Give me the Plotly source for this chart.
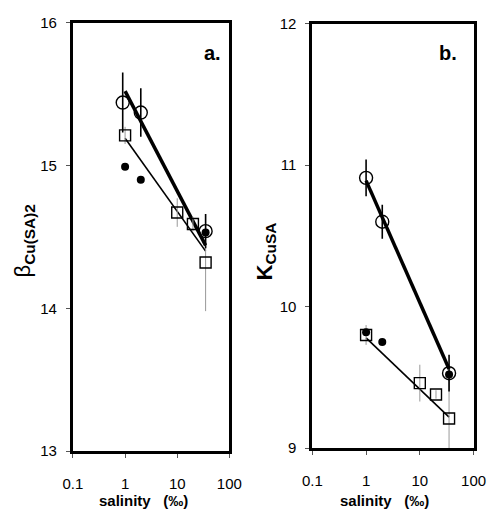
import plotly.graph_objects as go

# ---------------- data ----------------
# panel a : beta Cu(SA)2
a_circ_x = [0.9, 2, 35]
a_circ_y = [15.44, 15.37, 14.54]
a_circ_err = [0.21, 0.17, 0.12]
a_sq_x = [1, 10, 20, 35]
a_sq_y = [15.21, 14.67, 14.59, 14.32]
a_sq_err = [0.06, 0.10, 0.05, 0.34]
a_dot_x = [1, 2, 35]
a_dot_y = [14.99, 14.90, 14.53]
a_thick_x = [1, 35]
a_thick_y = [15.52, 14.44]
a_thin_x = [1, 35]
a_thin_y = [15.19, 14.40]

# panel b : K CuSA
b_circ_x = [1, 2, 35]
b_circ_y = [10.91, 10.60, 9.53]
b_circ_err = [0.13, 0.12, 0.13]
b_sq_x = [1, 10, 20, 35]
b_sq_y = [9.80, 9.46, 9.38, 9.21]
b_sq_err = [0.07, 0.13, 0.03, 0.32]
b_dot_x = [1, 2, 35]
b_dot_y = [9.82, 9.75, 9.52]
b_thick_x = [1, 35]
b_thick_y = [10.89, 9.56]
b_thin_x = [1, 35]
b_thin_y = [9.78, 9.22]

x_ticks = [0.1, 1, 10, 100]
x_ticktext = ["0.1", "1", "10", "100"]
a_yticks = [13, 14, 15, 16]
b_yticks = [9, 10, 11, 12]

fig = go.Figure()

def panel(xa, ya, thick_x, thick_y, thin_x, thin_y, sq_x, sq_y, sq_err,
          circ_x, circ_y, circ_err, dot_x, dot_y):
    fig.add_trace(go.Scatter(x=thin_x, y=thin_y, mode="lines",
                             line=dict(color="black", width=1.6),
                             xaxis=xa, yaxis=ya, showlegend=False))
    fig.add_trace(go.Scatter(x=thick_x, y=thick_y, mode="lines",
                             line=dict(color="black", width=3.5),
                             xaxis=xa, yaxis=ya, showlegend=False))
    fig.add_trace(go.Scatter(x=sq_x, y=sq_y, mode="markers",
                             marker=dict(symbol="square-open", size=11,
                                         color="black", line=dict(width=1.4)),
                             error_y=dict(type="data", array=sq_err, width=0,
                                          thickness=1, color="#999999"),
                             xaxis=xa, yaxis=ya, showlegend=False))
    fig.add_trace(go.Scatter(x=circ_x, y=circ_y, mode="markers",
                             marker=dict(symbol="circle-open", size=13,
                                         color="black", line=dict(width=1.4)),
                             error_y=dict(type="data", array=circ_err, width=0,
                                          thickness=1.6, color="black"),
                             xaxis=xa, yaxis=ya, showlegend=False))
    fig.add_trace(go.Scatter(x=dot_x, y=dot_y, mode="markers",
                             marker=dict(symbol="circle", size=8, color="black"),
                             xaxis=xa, yaxis=ya, showlegend=False))

panel("x", "y", a_thick_x, a_thick_y, a_thin_x, a_thin_y, a_sq_x, a_sq_y, a_sq_err,
      a_circ_x, a_circ_y, a_circ_err, a_dot_x, a_dot_y)
panel("x2", "y2", b_thick_x, b_thick_y, b_thin_x, b_thin_y, b_sq_x, b_sq_y, b_sq_err,
      b_circ_x, b_circ_y, b_circ_err, b_dot_x, b_dot_y)

tickfont = dict(family="Liberation Sans, Arial, sans-serif", size=15, color="black")
xcommon = dict(type="log", range=[-1, 2], tickvals=x_ticks, ticktext=x_ticktext,
               showgrid=False, zeroline=False, showline=True, linecolor="black",
               linewidth=3, mirror=True, ticks="outside", ticklen=4, tickwidth=1,
               tickcolor="#555555", tickfont=tickfont, ticklabelstandoff=13)
ycommon = dict(showgrid=False, zeroline=False, showline=True, linecolor="black",
               linewidth=3, mirror=True, ticks="outside", ticklen=4, tickwidth=1,
               tickcolor="#555555", tickfont=tickfont, ticklabelstandoff=6)

W, H = 498, 523
fig.update_layout(
    width=W, height=H, margin=dict(l=0, r=0, t=0, b=0),
    paper_bgcolor="white", plot_bgcolor="white",
    xaxis=dict(domain=[66 / W, 230 / W], anchor="y", **xcommon),
    yaxis=dict(domain=[1 - 457 / H, 1 - 14 / H], anchor="x", range=[13, 16],
               tickvals=a_yticks, **ycommon),
    xaxis2=dict(domain=[317 / W, 486 / W], anchor="y2", **xcommon),
    yaxis2=dict(domain=[1 - 454 / H, 1 - 15 / H], anchor="x2", range=[9, 12],
                tickvals=b_yticks, **ycommon),
)

ann_font = dict(family="Liberation Sans, Arial, sans-serif", color="black")
def ann(text, x, y, size, angle=0):
    fig.add_annotation(text=text, x=x / W, y=1 - y / H, xref="paper", yref="paper",
                       xanchor="center", yanchor="middle", showarrow=False,
                       textangle=angle, font=dict(size=size, **ann_font))

ann("<b>a.</b>", 212, 45, 20)
ann("<b>b.</b>", 459, 45, 20)
ann("<b>salinity   (‰)</b>", 140, 508, 15)
ann("<b>salinity   (‰)</b>", 393, 508, 15)
ann("β<sub><b>Cu(SA)2</b></sub>", 15, 240, 22, -90)
ann("<b>K</b><sub><b>CuSA</b></sub>", 268, 251, 22, -90)

fig.write_html("out.html")
